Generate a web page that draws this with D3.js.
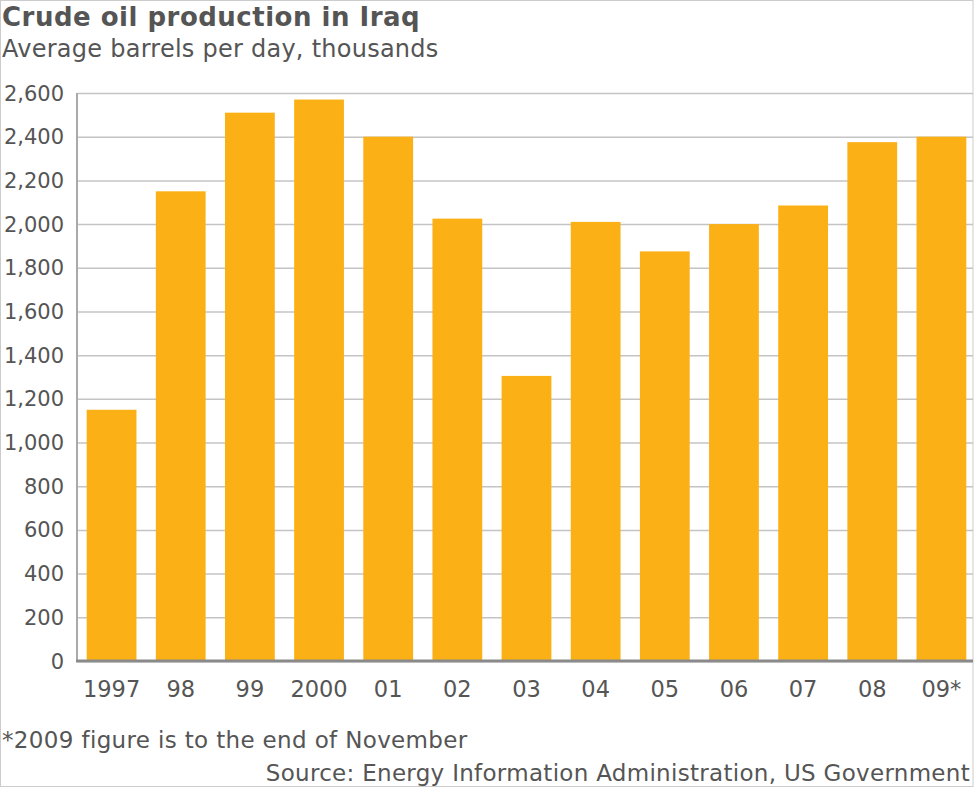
<!DOCTYPE html>
<html>
<head>
<meta charset="utf-8">
<script src="https://cdn.jsdelivr.net/npm/d3@7"></script>
<style>
  body { margin: 0; background: #fff; overflow: hidden; }
  svg { display: block; }
  text { font-family: 'DejaVu Sans', Verdana, sans-serif; fill: #555; }
  .grid line { stroke: #c4c4c4; stroke-width: 1.5; }
  .grid path { display: none; }
</style>
</head>
<body>
<svg id="chart"></svg>
<script>
const years = ['1997', '98', '99', '2000', '01', '02', '03', '04', '05', '06', '07', '08', '09*'];
const production = [1150, 2150, 2510, 2570, 2400, 2025, 1305, 2010, 1875, 2000, 2085, 2375, 2400];
const yTicks = d3.range(0, 2601, 200);

const width = 976;
const height = 788;
const margin = { top: 93, right: 0, bottom: 127, left: 77 };
const innerWidth = width - margin.left - margin.right;
const innerHeight = height - margin.top - margin.bottom;

const svg = d3.select('#chart')
  .attr('width', width)
  .attr('height', height);

// frame
svg.append('rect')
  .attr('x', 0.5).attr('y', 0.5)
  .attr('width', 972.5).attr('height', 786)
  .attr('fill', 'none')
  .attr('stroke', '#ccc');

svg.append('text')
  .attr('x', 2).attr('y', 26)
  .attr('font-size', 26).attr('font-weight', 'bold')
  .attr('letter-spacing', 0.5)
  .text('Crude oil production in Iraq');

svg.append('text')
  .attr('x', 2).attr('y', 57)
  .attr('font-size', 24)
  .attr('letter-spacing', 0.25)
  .text('Average barrels per day, thousands');

const g = svg.append('g')
  .attr('transform', `translate(${margin.left},${margin.top})`);

const x = d3.scaleBand()
  .domain(years)
  .range([0, innerWidth])
  .paddingInner(0.28)
  .paddingOuter(0.14);

const y = d3.scaleLinear()
  .domain([0, 2600])
  .range([innerHeight, 0]);

// gridlines
g.append('g')
  .attr('class', 'grid')
  .call(d3.axisLeft(y).tickValues(yTicks).tickSize(-(896)).tickFormat(''));

// y labels
g.append('g')
  .selectAll('text')
  .data(yTicks)
  .join('text')
  .attr('x', -13)
  .attr('y', (d) => y(d))
  .attr('dy', '0.36em')
  .attr('text-anchor', 'end')
  .attr('font-size', 21)
  .text((d) => d3.format(',')(d));

g.append('g')
  .selectAll('rect')
  .data(production)
  .join('rect')
  .attr('x', (d, i) => x(years[i]))
  .attr('y', (d) => y(d))
  .attr('width', x.bandwidth())
  .attr('height', (d) => y(0) - y(d))
  .attr('fill', '#fbb116');

// left axis line
g.append('line')
  .attr('x1', 0).attr('x2', 0)
  .attr('y1', 0).attr('y2', innerHeight)
  .attr('stroke', '#aaa')
  .attr('stroke-width', 2);

// baseline
g.append('line')
  .attr('x1', -1).attr('x2', 896)
  .attr('y1', innerHeight).attr('y2', innerHeight)
  .attr('stroke', '#8a8a8a')
  .attr('stroke-width', 3);

// x labels
g.append('g')
  .selectAll('text')
  .data(years)
  .join('text')
  .attr('x', (d) => x(d) + x.bandwidth() / 2)
  .attr('y', innerHeight + 36)
  .attr('text-anchor', 'middle')
  .attr('font-size', 22.5)
  .text((d) => d);

svg.append('text')
  .attr('x', 2).attr('y', 748)
  .attr('font-size', 23)
  .attr('letter-spacing', 0.35)
  .text('*2009 figure is to the end of November');

svg.append('text')
  .attr('x', 970).attr('y', 781)
  .attr('text-anchor', 'end')
  .attr('font-size', 23)
  .attr('letter-spacing', 0.3)
  .text('Source: Energy Information Administration, US Government');
</script>
</body>
</html>
